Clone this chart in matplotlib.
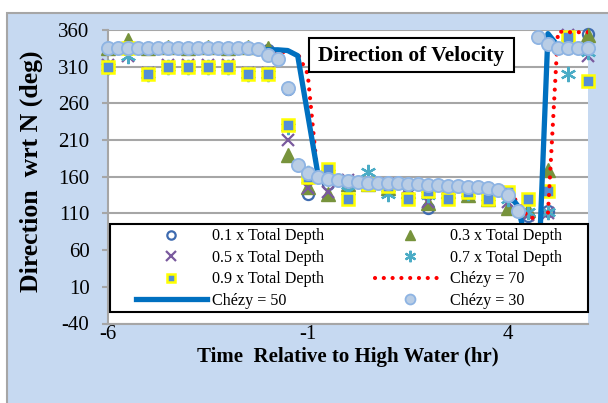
import numpy as np
import matplotlib
matplotlib.use("Agg")
import matplotlib.pyplot as plt
from matplotlib.patches import Rectangle

plt.rcParams['font.family'] = ['Liberation Serif', 'DejaVu Serif']
plt.rcParams['axes.unicode_minus'] = False

# ---- data -------------------------------------------------------------
# measured directions every half hour, model runs every quarter hour
t_meas = np.arange(-6.0, 6.01, 0.5)
t_model = np.arange(-6.0, 6.01, 0.25)

depth_01 = [335, 338, 335, 335, 335, 335, 335, 335, 333, 280, 137, 150, 150,
            150, 148, 148, 118, 148, 146, 144, 135, 107, 114, 345, 355]
depth_03 = [335, 347, 335, 337, 335, 337, 335, 337, 335, 190, 146, 136, 150,
            150, 145, 140, 124, 140, 135, 130, 117, 115, 169, 345, 353]
depth_05 = [312, 325, 302, 312, 312, 312, 312, 302, 302, 210, 145, 139, 155,
            150, 150, 145, 125, 145, 140, 135, 125, 108, 110, 353, 325]
depth_07 = [310, 325, 300, 310, 310, 310, 310, 300, 300, 228, 165, 165, 140,
            166, 137, 140, 135, 140, 138, 133, 130, 112, 112, 300, 330]
depth_09 = [310, 335, 300, 310, 310, 310, 310, 300, 300, 230, 160, 170, 130,
            150, 148, 130, 140, 130, 139, 130, 139, 130, 141, 350, 290]

chezy_70 = [330, 330, 330, 330, 330, 330, 330, 330, 330, 330, 330, 330, 330,
            330, 330, 330, 330, 330, 330, 328, 300, 160, 155, 153, 152, 151,
            151, 150, 150, 149, 149, 148, 148, 147, 147, 146, 145, 144, 142,
            140, 140, 125, 105, 103, 110, 358, 357, 357, 357]
chezy_50 = [333, 333, 333, 333, 333, 333, 333, 333, 333, 333, 333, 333, 333,
            333, 333, 333, 333, 333, 332, 325, 245, 165, 155, 153, 152, 151,
            151, 150, 150, 149, 149, 148, 148, 147, 147, 146, 145, 144, 143,
            143, 138, 120, 60, 10, 355, 338, 338, 338, 338]
chezy_30 = [335, 335, 335, 335, 335, 335, 335, 335, 335, 335, 335, 335, 335,
            335, 335, 334, 326, 320, 281, 176, 165, 159, 157, 155, 154, 153,
            152, 152, 151, 151, 150, 150, 149, 149, 148, 147, 146, 146, 144,
            142, 135, 114, 40, 350, 341, 335, 335, 335, 335]

x_ticks = [-6, -1, 4]
y_ticks = list(range(-40, 361, 50))

# ---- figure -----------------------------------------------------------
W, H = 608, 403
fig = plt.figure(figsize=(W / 100, H / 100), dpi=100)
fig.patch.set_facecolor('white')
fig.add_artist(Rectangle((7 / W, -0.05), 1.2, 1 - 13 / H + 0.05,
                         transform=fig.transFigure, facecolor='#c6d9f1',
                         edgecolor='#a6a6a6', lw=1.5, zorder=0))

x0, x1, y0, y1 = 107.5, 588, 30, 323.5
ax = fig.add_axes([x0 / W, 1 - y1 / H, (x1 - x0) / W, (y1 - y0) / H])
ax.set_facecolor('white')
ax.set_xlim(-6, 6)
ax.set_ylim(-40, 360)
ax.set_xticks(x_ticks)
ax.set_yticks(y_ticks)
ax.grid(axis='y', color='#a6a6a6', lw=1.5, zorder=0)
ax.set_axisbelow(True)
for s in ('top', 'right'):
    ax.spines[s].set_visible(False)
for s in ('left', 'bottom'):
    ax.spines[s].set_color('#a6a6a6')
    ax.spines[s].set_linewidth(1.5)
ax.tick_params(axis='y', length=4, width=1.5, color='#a6a6a6', pad=9,
               labelsize=15)
ax.tick_params(axis='x', length=0, pad=1, labelsize=15)

ax.set_xlabel('Time  Relative to High Water (hr)', fontsize=15,
              fontweight='bold')
ax.xaxis.set_label_coords((348 - x0) / (x1 - x0), (y1 - 357) / (y1 - y0))
ax.xaxis.label.set_va('center')
ax.set_ylabel('Direction  wrt N (deg)', fontsize=18.5, fontweight='bold')
ax.yaxis.set_label_coords((31 - x0) / (x1 - x0), (y1 - 171) / (y1 - y0))
ax.yaxis.label.set_va('center')

kw = dict(linestyle='none', clip_on=False)
h01, = ax.plot(t_meas, depth_01, marker='o', ms=8, mfc='none', mec='#3e6bb0',
               mew=1.6, zorder=3, **kw)
h03, = ax.plot(t_meas, depth_03, marker='^', ms=10, mfc='#77933c',
               mec='#77933c', zorder=3, **kw)
h05, = ax.plot(t_meas, depth_05, marker='x', ms=9, mec='#7a5a9e', mew=1.6,
               zorder=3, **kw)
h07, = ax.plot(t_meas, depth_07, marker=(6, 2, 0), ms=11, mec='#4bacc6',
               mew=1.6, zorder=3, **kw)
h09, = ax.plot(t_meas, depth_09, marker='s', ms=8.5, mfc='#558ed5',
               mec='#ffff00', mew=1.8, zorder=3, **kw)
h70, = ax.plot(t_model, chezy_70, color='#ff0000', lw=3,
               linestyle=(0, (0.01, 2.1)), dash_capstyle='round', zorder=3)
h50, = ax.plot(t_model, chezy_50, color='#0070c0', lw=3.8,
               solid_joinstyle='round', zorder=3)
h30, = ax.plot(t_model, chezy_30, marker='o', ms=9.5, mfc='#b9cde5',
               mec='#8eb4e3', mew=1.3, zorder=3, **kw)

# title box
ax.add_patch(Rectangle((309 / W, 1 - 72 / H), 205 / W, 34 / H,
                       transform=fig.transFigure, facecolor='white',
                       edgecolor='black', lw=1.5, zorder=6, clip_on=False))
fig.text(411.5 / W, 1 - 55.5 / H, 'Direction of Velocity', ha='center',
         va='center', fontsize=15.4, fontweight='bold', zorder=7)

# legend with its own frame
ax.add_patch(Rectangle((110 / W, 1 - 312 / H), 478 / W, 88 / H,
                       transform=fig.transFigure, facecolor='white',
                       edgecolor='black', lw=1.5, zorder=4.5, clip_on=False))
handles = [h01, h05, h09, h50, h03, h07, h70, h30]
labels = ['0.1 x Total Depth', '0.5 x Total Depth', '0.9 x Total Depth',
          'Chézy = 50', '0.3 x Total Depth', '0.7 x Total Depth',
          'Chézy = 70', 'Chézy = 30']
leg = ax.legend(handles, labels, ncol=2, loc='upper left',
                bbox_to_anchor=(136 / W, 1 - 228.5 / H),
                bbox_transform=fig.transFigure, frameon=False,
                fontsize=11.6, handlelength=4.4, handletextpad=0.3,
                columnspacing=3.15, labelspacing=0.34, borderpad=0,
                borderaxespad=0, markerscale=0.75)
leg.set_zorder(6)

fig.savefig('out.png', dpi=100)
